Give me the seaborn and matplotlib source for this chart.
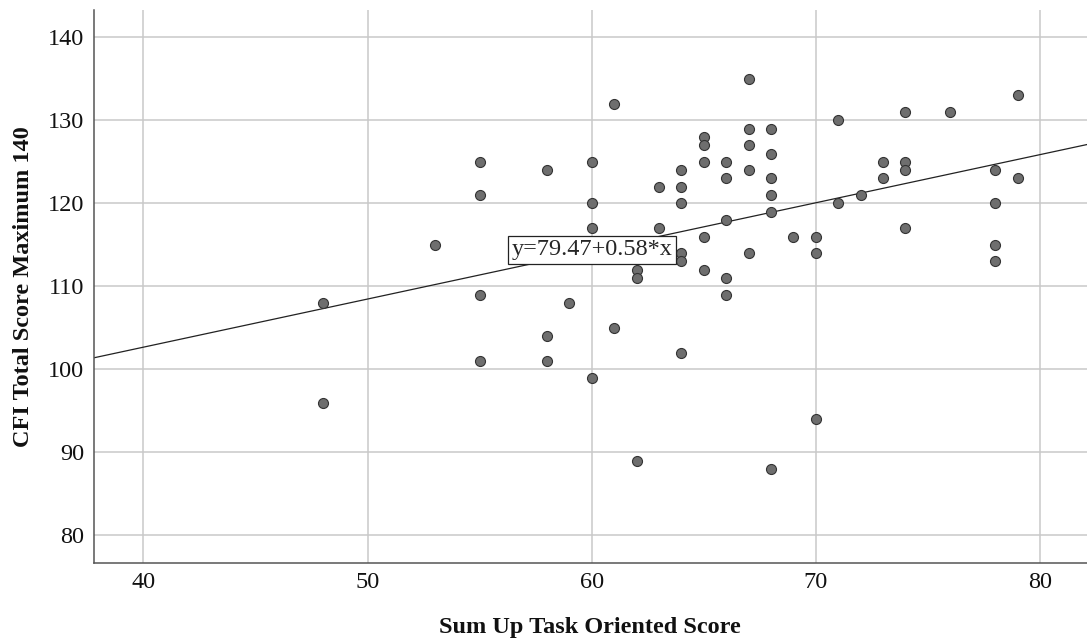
import numpy as np
import pandas as pd
import matplotlib
matplotlib.use('Agg')
import matplotlib.pyplot as plt
import seaborn as sns

# Data
task_score = [55, 58, 55, 53, 55, 48, 58, 55, 58, 48,
              60, 60, 60, 61, 61, 59, 60, 62, 62, 62,
              63, 63, 64, 64, 64, 64, 64, 64, 65, 65,
              65, 65, 65, 66, 66, 66, 66, 66, 67, 67,
              67, 67, 67, 68, 68, 68, 68, 68, 68, 69,
              70, 70, 70, 71, 71, 72, 73, 73, 74, 74,
              74, 74, 76, 78, 78, 78, 78, 79, 79]
cfi_total = [125, 124, 121, 115, 109, 108, 104, 101, 101, 96,
             125, 120, 117, 132, 105, 108, 99, 112, 111, 89,
             122, 117, 124, 122, 120, 114, 113, 102, 128, 127,
             125, 116, 112, 125, 123, 118, 111, 109, 135, 129,
             127, 124, 114, 129, 126, 123, 121, 119, 88, 116,
             116, 114, 94, 130, 120, 121, 125, 123, 131, 125,
             124, 117, 131, 124, 120, 115, 113, 133, 123]

# fit line as reported on the chart
intercept = 79.47
slope = 0.58
fit_label = f"y={intercept:.2f}+{slope:.2f}*x"

df = pd.DataFrame({'task': task_score, 'cfi': cfi_total})

sns.set_theme(style='whitegrid')
plt.rcParams['font.family'] = ['Liberation Serif', 'DejaVu Serif']

fig = plt.figure(figsize=(10.87, 6.41), dpi=100)
ax = fig.add_axes([0.0862, 0.1222, 0.9138, 0.8622])

sns.scatterplot(data=df, x='task', y='cfi', ax=ax, color='#6e6e6e',
                edgecolor='#333333', linewidth=0.8, s=52, zorder=3)

# regression line across the whole plot
ax.axline((0, intercept), slope=slope, color='#222222', linewidth=0.9, zorder=2)

ax.text(60, 114.4, fit_label, ha='center', va='center', fontsize=17.5, zorder=4,
        bbox=dict(boxstyle='square,pad=0.15', facecolor='white',
                  edgecolor='#222222', linewidth=0.9))

ax.set_xlim(37.78, 82.1)
ax.set_ylim(76.7, 143.3)
ax.set_xticks([40, 50, 60, 70, 80])
ax.set_yticks([80, 90, 100, 110, 120, 130, 140])
ax.tick_params(axis='both', labelsize=17.5, length=0, pad=7, colors='#111111')
ax.grid(True, color='#c9c9c9', linewidth=1.1)
ax.set_facecolor('white')

for side in ['top', 'right']:
    ax.spines[side].set_visible(False)
for side in ['left', 'bottom']:
    ax.spines[side].set_visible(True)
    ax.spines[side].set_color('#555555')
    ax.spines[side].set_linewidth(1.1)

ax.set_xlabel('Sum Up Task Oriented Score', fontsize=17.5, fontweight='bold',
              labelpad=17, color='#111111')
ax.set_ylabel('CFI Total Score Maximum 140', fontsize=17.5, fontweight='bold',
              labelpad=10, color='#111111')

fig.savefig('out.png', dpi=100)
